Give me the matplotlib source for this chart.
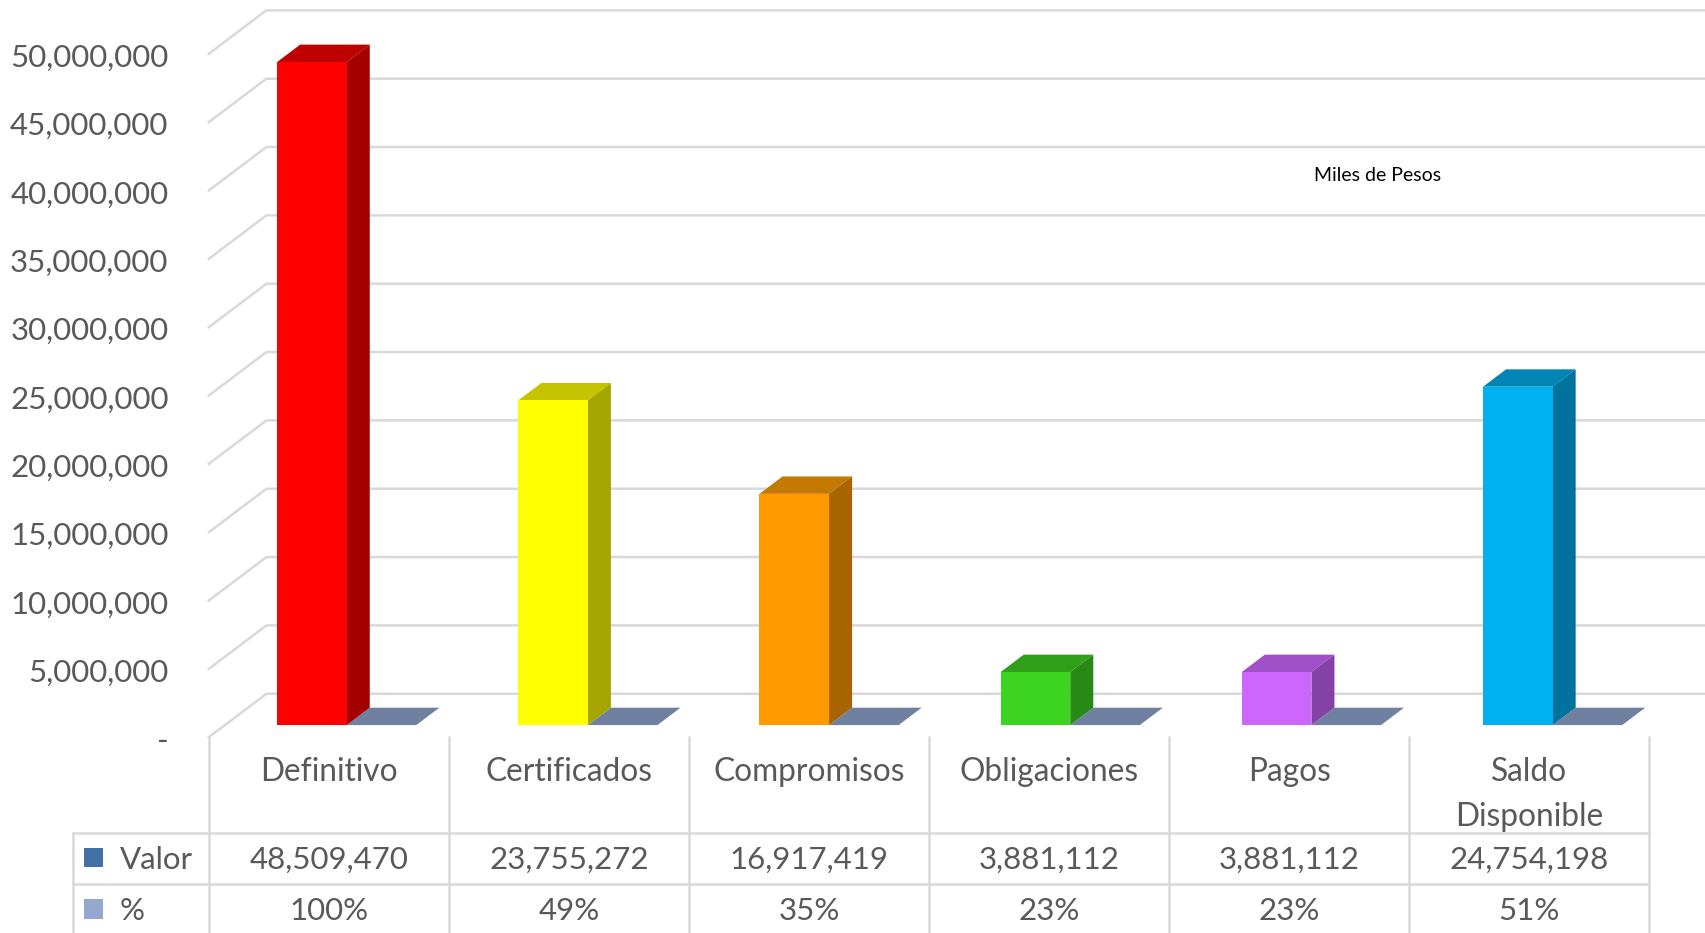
#Presupuesto chart: 3D-looking columns with a data table underneath
import matplotlib
matplotlib.use("Agg")
import matplotlib.pyplot as plt
from matplotlib.patches import Polygon, Rectangle

plt.rcParams["font.family"] = ["Lato", "DejaVu Sans"]

categories = ["Definitivo", "Certificados", "Compromisos", "Obligaciones", "Pagos", "Saldo\nDisponible"]
valor = [48509470, 23755272, 16917419, 3881112, 3881112, 24754198]
porcentaje = [1.00, 0.49, 0.35, 0.23, 0.23, 0.51]
y_ticks = list(range(0, 50000001, 5000000))
valor_labels = ["48,509,470", "23,755,272", "16,917,419", "3,881,112", "3,881,112", "24,754,198"]
pct_labels = ["100%", "49%", "35%", "23%", "23%", "51%"]

front_colors = ["#FF0000", "#FFFF00", "#FF9900", "#3DD321", "#CC66FF", "#00B0F0"]
side_colors = ["#A50000", "#A6A600", "#A86400", "#278A15", "#8442A6", "#00729D"]
top_colors = ["#BE0000", "#C4C400", "#C47A00", "#309F1A", "#9F50C6", "#0085B5"]
pct_top_color = "#7080A0"
grid_color = "#D9D9D9"
text_color = "#595959"

#layout measured in pixels of a 1568x858 view of the picture
W, H = 1568, 858
X0, Y0 = 192, 678       #front left corner of the floor
CAT_W = 220.8           #pixels for one category
PER_PX = 50000000 / (678 - 49.5)    #value units for one pixel
DEPTH_X = 53 / CAT_W    #depth of the whole box, in category units
DEPTH_Y = 40 * PER_PX   #same, in value units
BAR_STEP = 221.8 / CAT_W    #columns are spaced a bit wider than the table
BAR_GAP = 48 / CAT_W
BAR_W = 64 / CAT_W
Z_FRONT, Z_BACK = 0.28, 0.68
FS = 22.5


def row_y(px):
    #table rows are placed below zero, on the same axis as the bars
    return (Y0 - px) * PER_PX


def col_x(px):
    return (px - X0) / CAT_W


def pt(x, y, z):
    #oblique projection of (category, value, depth)
    return (x + z * DEPTH_X, y + z * DEPTH_Y)


fig = plt.figure(figsize=(17.05, 9.33), dpi=100)
ax = fig.add_axes([0, 0, 1, 1])
ax.set_xlim(col_x(0), col_x(W))
ax.set_ylim(row_y(H), row_y(0))
ax.axis("off")

#back wall gridlines and the diagonals on the side wall
x_end = col_x(W)
for t in y_ticks:
    a = pt(0, t, 0)
    b = pt(0, t, 1)
    ax.plot([a[0], b[0], x_end], [a[1], b[1], b[1]], color=grid_color, lw=1.8, zorder=1,
            solid_joinstyle="miter")
    label = "-" if t == 0 else f"{t:,}"
    ax.text(col_x(155), t - 3.5 * PER_PX, label, ha="right", va="center", fontsize=FS, color=text_color)

#columns, each with a flat % bar next to it (values are tiny on this scale)
for i in range(len(valor)):
    x1 = i * BAR_STEP + BAR_GAP
    x2 = x1 + BAR_W
    v = valor[i]
    ax.add_patch(Polygon([pt(x1, v, Z_FRONT), pt(x2, v, Z_FRONT), pt(x2, v, Z_BACK), pt(x1, v, Z_BACK)],
                         facecolor=top_colors[i], edgecolor="none", zorder=3))
    ax.add_patch(Polygon([pt(x2, 0, Z_FRONT), pt(x2, v, Z_FRONT), pt(x2, v, Z_BACK), pt(x2, 0, Z_BACK)],
                         facecolor=side_colors[i], edgecolor="none", zorder=3))
    ax.add_patch(Polygon([pt(x1, 0, Z_FRONT), pt(x2, 0, Z_FRONT), pt(x2, v, Z_FRONT), pt(x1, v, Z_FRONT)],
                         facecolor=front_colors[i], edgecolor="none", zorder=4))
    p = porcentaje[i]
    ax.add_patch(Polygon([pt(x2, p, Z_FRONT), pt(x2 + BAR_W, p, Z_FRONT), pt(x2 + BAR_W, p, Z_BACK), pt(x2, p, Z_BACK)],
                         facecolor=pct_top_color, edgecolor="none", zorder=2))

ax.text(col_x(1267), row_y(161.5), "Miles de Pesos", ha="center", va="center", fontsize=14, color="black")

#data table
for i in range(len(categories) + 1):
    ax.plot([i, i], [row_y(678), row_y(H)], color=grid_color, lw=1.8, zorder=1)
ax.plot([col_x(67), col_x(67)], [row_y(766), row_y(H)], color=grid_color, lw=1.8, zorder=1)
for y in (766, 813):
    ax.plot([col_x(67), len(categories)], [row_y(y), row_y(y)], color=grid_color, lw=1.8, zorder=1)

for i, name in enumerate(categories):
    ax.text(i + 0.5, row_y(696), name, ha="center", va="top", fontsize=22.8, color=text_color, linespacing=1.62)
    ax.text(i + 0.5, row_y(791), valor_labels[i], ha="center", va="center", fontsize=FS, color=text_color)
    ax.text(i + 0.5, row_y(838), pct_labels[i], ha="center", va="center", fontsize=FS, color=text_color)

#legend keys inside the table
ax.add_patch(Rectangle((col_x(77), row_y(797)), 18 / CAT_W, 17 * PER_PX, facecolor="#4371A6", edgecolor="none"))
ax.add_patch(Rectangle((col_x(77), row_y(845)), 18 / CAT_W, 18 * PER_PX, facecolor="#95A9D0", edgecolor="none"))
ax.text(col_x(110), row_y(791), "Valor", ha="left", va="center", fontsize=FS, color=text_color)
ax.text(col_x(110), row_y(838), "%", ha="left", va="center", fontsize=FS, color=text_color)

fig.savefig("out.png", dpi=100)
